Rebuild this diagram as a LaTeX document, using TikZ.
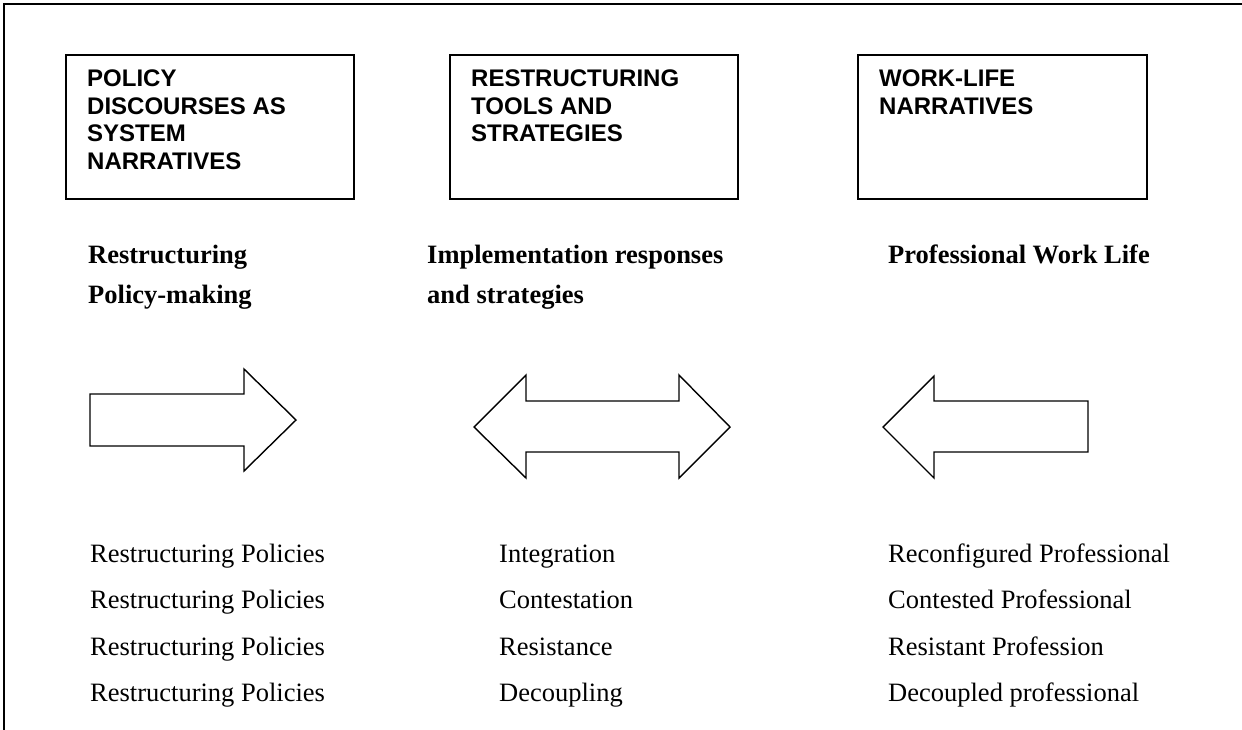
\documentclass[tikz,border=0pt]{standalone}
\usepackage{fontspec}
\setmainfont{Liberation Serif}
\newfontfamily\boxfont{Liberation Sans}[UprightFont={* Bold},BoldFont={* Bold}]
\begin{document}
\begin{tikzpicture}[x=1pt,y=-1pt,
  frameline/.style={line width=2pt},
  titlebox/.style={draw,line width=1.4pt},
  boxtext/.style={anchor=base west,inner sep=0pt,align=left,font=\boxfont\fontsize{24}{27.6}\selectfont},
  headtext/.style={anchor=base west,inner sep=0pt,align=left,font=\bfseries\fontsize{26.5}{40.5}\selectfont},
  itemtext/.style={anchor=base west,inner sep=0pt,font=\fontsize{26.5}{30}\selectfont},
  bigarrow/.style={draw,line width=1.4pt,line join=miter,fill=white}]
\useasboundingbox (0,0) rectangle (1242,729);
% outer frame (top and left edges visible)
\draw[frameline] (3.5,740) -- (3.5,3.5) -- (1250,3.5);
% title boxes
\draw[titlebox] (66,55) rectangle (354,199);
\draw[titlebox] (450,55) rectangle (738,199);
\draw[titlebox] (858,55) rectangle (1147,199);
% multi-line nodes: base anchor is the baseline of the last line
\node[boxtext] (t1) at (87,169.5) {POLICY\\DISCOURSES AS\\SYSTEM\\NARRATIVES};
\node[boxtext] (t2) at (471,141.9) {RESTRUCTURING\\TOOLS AND\\STRATEGIES};
\node[boxtext] (t3) at (879,114.3) {WORK-LIFE\\NARRATIVES};
% headings
\node[headtext] (h1) at (88,303.5) {Restructuring\\Policy-making};
\node[headtext] (h2) at (427,303.5) {Implementation responses\\and strategies};
\node[headtext] (h3) at (888,263) {Professional Work Life};
% arrows
\draw[bigarrow] (90,394) -- (244,394) -- (244,369) -- (296,420) -- (244,471) -- (244,446) -- (90,446) -- cycle;
\draw[bigarrow] (474,427) -- (526,375) -- (526,401) -- (679,401) -- (679,375) -- (730,427) -- (679,478) -- (679,452) -- (526,452) -- (526,478) -- cycle;
\draw[bigarrow] (883,427) -- (934,376) -- (934,401) -- (1088,401) -- (1088,452) -- (934,452) -- (934,478) -- cycle;
% item lists
\node[itemtext] (a1) at (90,562) {Restructuring Policies};
\node[itemtext] (a2) at (90,608.5) {Restructuring Policies};
\node[itemtext] (a3) at (90,655) {Restructuring Policies};
\node[itemtext] (a4) at (90,701.5) {Restructuring Policies};
\node[itemtext] (b1) at (499,562) {Integration};
\node[itemtext] (b2) at (499,608.5) {Contestation};
\node[itemtext] (b3) at (499,655) {Resistance};
\node[itemtext] (b4) at (499,701.5) {Decoupling};
\node[itemtext] (c1) at (888,562) {Reconfigured Professional};
\node[itemtext] (c2) at (888,608.5) {Contested Professional};
\node[itemtext] (c3) at (888,655) {Resistant Profession};
\node[itemtext] (c4) at (888,701.5) {Decoupled professional};
\end{tikzpicture}
\end{document}
